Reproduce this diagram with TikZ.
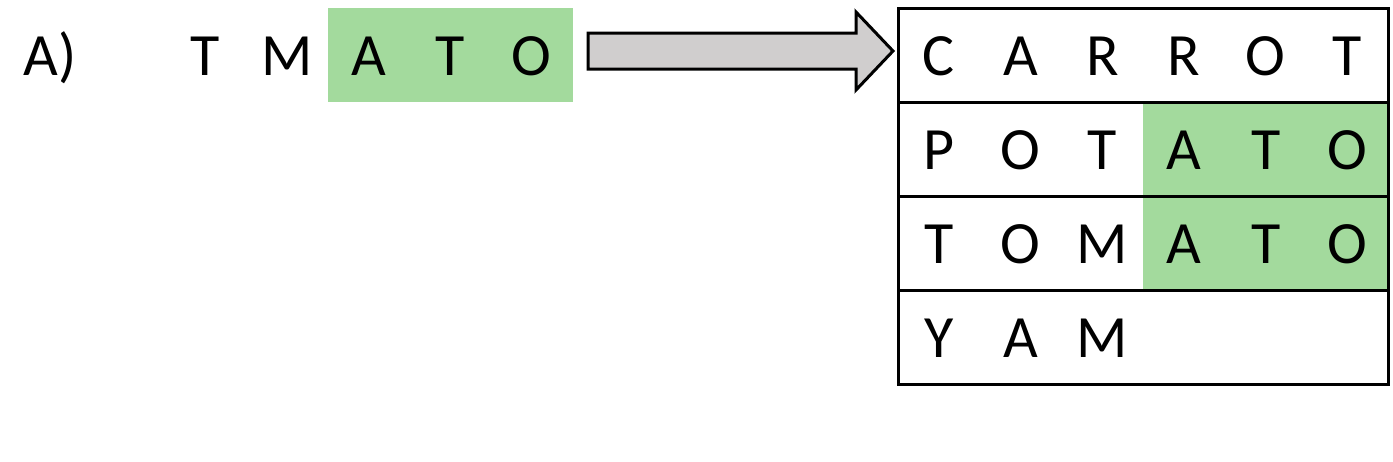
\documentclass[tikz,border=0pt]{standalone}
\usepackage{fontspec}
\setmainfont{Carlito}
\definecolor{matchgreen}{HTML}{A3DA9D}
\definecolor{arrowgrey}{HTML}{D0CECE}

\begin{document}
\begin{tikzpicture}[x=1pt, y=1pt,
  letter/.style={anchor=base, inner sep=0pt, font=\fontsize{60}{72}\selectfont},
  rowbox/.style={draw=black, line width=3pt, minimum width=490pt, minimum height=94pt, inner sep=0pt},
  hit/.style={fill=matchgreen, inner sep=0pt, minimum width=245pt, minimum height=94pt},
  bigarr/.style={draw=black, line width=3pt, fill=arrowgrey, line join=miter}]
\useasboundingbox (0,0) rectangle (1393,-461);

% query word
\node[letter] at (50,-75) (label) {A)};
\node[hit] at (450,-54.5) (qmatch) {};
\foreach \ch [count=\i] in {T,M,A,T,O}
  \node[letter] at (205+81.7*\i-81.7,-75) (q\i) {\ch};

% block arrow
\coordinate (arrtail) at (588,-51);
\coordinate (arrtip) at (893,-51);
\draw[bigarr] ([yshift=18pt]arrtail) -- ([xshift=-37pt,yshift=18pt]arrtip)
  -- ([xshift=-37pt,yshift=39pt]arrtip) -- (arrtip)
  -- ([xshift=-37pt,yshift=-39pt]arrtip) -- ([xshift=-37pt,yshift=-18pt]arrtip)
  -- ([yshift=-18pt]arrtail) -- cycle;

% dictionary
\node[hit] at (1265.5,-149) (m2) {};
\node[hit] at (1265.5,-243) (m3) {};
\foreach \r/\y in {1/-55,2/-149,3/-243,4/-337}
  \node[rowbox] at (1143,\y) (row\r) {};
\foreach \ch [count=\i] in {C,A,R,R,O,T}
  \node[letter] at (898+81.7*\i-40.8,-75) (a\i) {\ch};
\foreach \ch [count=\i] in {P,O,T,A,T,O}
  \node[letter] at (898+81.7*\i-40.8,-169) (b\i) {\ch};
\foreach \ch [count=\i] in {T,O,M,A,T,O}
  \node[letter] at (898+81.7*\i-40.8,-263) (c\i) {\ch};
\foreach \ch [count=\i] in {Y,A,M}
  \node[letter] at (898+81.7*\i-40.8,-357) (d\i) {\ch};
\end{tikzpicture}
\end{document}
